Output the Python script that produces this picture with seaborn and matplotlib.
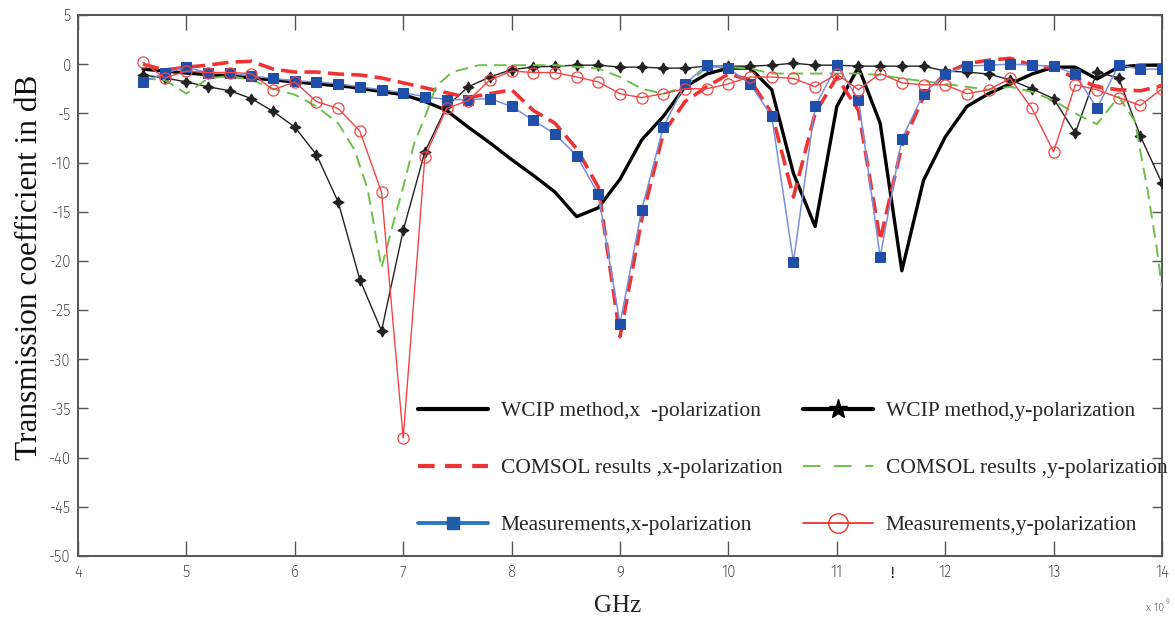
import matplotlib
matplotlib.use("Agg")
import numpy as np
import pandas as pd
import matplotlib.pyplot as plt
from matplotlib import font_manager as fm
from matplotlib.lines import Line2D
import seaborn as sns

# Frequency grid (GHz) shared by the sampled series
freq = [4.6, 4.8, 5.0, 5.2, 5.4, 5.6, 5.8, 6.0, 6.2, 6.4, 6.6, 6.8,
        7.0, 7.2, 7.4, 7.6, 7.8, 8.0, 8.2, 8.4, 8.6, 8.8, 9.0, 9.2,
        9.4, 9.6, 9.8, 10.0, 10.2, 10.4, 10.6, 10.8, 11.0, 11.2, 11.4, 11.6,
        11.8, 12.0, 12.2, 12.4, 12.6, 12.8, 13.0, 13.2, 13.4, 13.6, 13.8, 14.0]

meas_x = [-1.8, -0.9, -0.3, -0.9, -0.9, -1.2, -1.45, -1.7, -1.8, -2.0, -2.3, -2.6,
          -2.9, -3.3, -3.6, -3.6, -3.5, -4.3, -5.7, -7.1, -9.3, -13.2, -26.4, -14.8,
          -6.4, -2.0, -0.1, -0.4, -2.0, -5.3, -20.1, -4.3, -0.1, -3.6, -19.6, -7.6,
          -3.0, -1.0, -0.2, -0.1, 0.0, -0.1, -0.2, -1.0, -4.5, -0.1, -0.5, -0.5]

meas_y = [0.2, -1.4, -0.7, -0.85, -0.85, -0.95, -2.6, -1.8, -3.8, -4.5, -6.8, -13.0,
          -38.0, -9.4, -4.5, -3.7, -1.6, -0.7, -0.85, -0.85, -1.3, -1.8, -3.0, -3.4,
          -3.0, -2.5, -2.5, -2.0, -1.3, -1.3, -1.45, -2.3, -1.0, -2.6, -0.95, -1.9,
          -2.1, -2.1, -3.0, -2.6, -1.45, -4.5, -8.9, -2.1, -2.6, -3.4, -4.2, -2.5]

wcip_y = [-1.1, -1.4, -1.8, -2.3, -2.7, -3.5, -4.8, -6.4, -9.2, -14.0, -21.9, -27.1,
          -16.9, -8.9, -4.3, -2.3, -1.3, -0.55, -0.3, -0.2, -0.1, -0.1, -0.3, -0.3,
          -0.4, -0.4, -0.2, -0.2, -0.2, -0.1, 0.1, -0.1, -0.1, -0.2, -0.2, -0.2,
          -0.2, -0.7, -0.8, -1.0, -1.6, -2.5, -3.5, -7.0, -0.8, -1.4, -7.3, -12.1]

comsol_x = [0.0, -0.6, -0.3, -0.1, 0.2, 0.3, -0.5, -0.8, -0.8, -1.0, -1.1, -1.4,
            -1.9, -2.4, -2.9, -3.4, -3.0, -2.6, -4.7, -6.0, -8.6, -12.5, -27.7, -15.8,
            -7.0, -3.8, -2.3, -1.0, -1.6, -5.0, -13.5, -5.0, -1.3, -4.7, -17.9, -8.3,
            -3.3, -0.95, 0.05, 0.4, 0.6, -0.1, -0.4, -1.4, -2.3, -2.6, -2.7, -2.2]

# WCIP method, x-polarization (continuous solver output)
wcip_x_freq = [4.6, 5.0, 5.5, 6.0, 6.5, 7.0, 7.2, 7.4, 7.6, 7.8, 8.0, 8.2, 8.4, 8.6,
               8.8, 9.0, 9.2, 9.4, 9.6, 9.8, 10.0, 10.2, 10.4, 10.6, 10.8, 11.0, 11.2,
               11.4, 11.6, 11.8, 12.0, 12.2, 12.4, 12.6, 12.8, 13.0, 13.2, 13.4, 13.6,
               13.8, 14.0]
wcip_x = [-0.5, -0.9, -1.3, -1.8, -2.3, -3.1, -3.8, -4.7, -6.4, -8.0, -9.7, -11.3, -13.0,
          -15.5, -14.6, -11.7, -7.7, -5.3, -2.3, -1.0, -0.4, -0.4, -2.6, -11.1, -16.5,
          -4.3, -0.3, -6.0, -21.0, -11.8, -7.4, -4.3, -3.0, -2.0, -1.0, -0.3, -0.3,
          -1.5, -0.3, -0.1, -0.1]

# COMSOL, y-polarization
comsol_y_freq = [4.6, 4.8, 5.0, 5.2, 5.4, 5.6, 5.8, 6.0, 6.2, 6.4, 6.55, 6.67, 6.8,
                 6.9, 7.0, 7.1, 7.2, 7.3, 7.45, 7.7, 8.0, 8.4, 8.8, 9.0, 9.2, 9.4,
                 9.6, 9.8, 10.0, 10.2, 10.4, 10.8, 11.2, 11.4, 11.6, 12.0, 12.4, 12.6,
                 12.8, 13.0, 13.2, 13.4, 13.6, 13.75, 13.87, 13.95, 14.0]
comsol_y = [-1.45, -1.6, -3.0, -1.45, -1.2, -1.6, -2.5, -3.1, -4.3, -6.0, -8.7, -12.6,
            -20.7, -16.5, -12.5, -8.1, -5.4, -2.3, -0.8, -0.1, -0.1, -0.1, -0.45, -1.3,
            -2.5, -3.0, -2.3, -0.3, -0.3, -0.45, -0.95, -0.95, -0.95, -1.1, -1.45, -2.0,
            -2.6, -2.3, -2.8, -3.7, -5.0, -6.1, -3.3, -5.8, -13.0, -18.6, -22.7]

labels = ["WCIP method,x  -polarization", "WCIP method,y-polarization",
          "COMSOL results ,x-polarization", "COMSOL results ,y-polarization",
          "Measurements,x-polarization", "Measurements,y-polarization"]

x_ticks = [4, 5, 6, 7, 8, 9, 10, 11, 12, 13, 14]
y_ticks = [5, 0, -5, -10, -15, -20, -25, -30, -35, -40, -45, -50]

sns.set_style("white")
serif = ["Liberation Serif", "DejaVu Serif"]

# Pick a condensed sans face for the tick labels when one is installed
narrow_file = None
for f in fm.findSystemFonts():
    name = f.lower()
    if ("narrow" in name or "condensed" in name) and "sans" in name and "bold" not in name \
            and "oblique" not in name and "italic" not in name:
        narrow_file = f
        break
if narrow_file:
    tick_font = fm.FontProperties(fname=narrow_file, size=12)
    label_font = fm.FontProperties(fname=narrow_file, size=8.5)
    sup_font = fm.FontProperties(fname=narrow_file, size=6)
else:
    tick_font = fm.FontProperties(family="DejaVu Sans", size=10)
    label_font = fm.FontProperties(family="DejaVu Sans", size=7.5)
    sup_font = fm.FontProperties(family="DejaVu Sans", size=5.5)

W, H = 1175, 622
fig = plt.figure(figsize=(W / 100, H / 100), dpi=100)
ax = fig.add_axes([78 / W, 1 - 556 / H, (1162 - 78) / W, (556 - 15) / H])

red = "#ee3333"
blue_line = "#7b8fdc"
blue_mark = "#1f4fa8"
green = "#6cc04a"

sns.lineplot(x=wcip_x_freq, y=wcip_x, ax=ax, color="black", lw=2.4, sort=False,
             estimator=None, zorder=3)
sns.lineplot(x=freq, y=wcip_y, ax=ax, color="#222222", lw=1.0, sort=False,
             estimator=None, marker=(4, 1, 0), markersize=8, markeredgewidth=0.8,
             markerfacecolor="#222222", markeredgecolor="#222222", zorder=3)
sns.lineplot(x=freq, y=comsol_x, ax=ax, color=red, lw=2.6, sort=False,
             estimator=None, zorder=4).lines[-1].set_dashes([4.5, 2])
sns.lineplot(x=comsol_y_freq, y=comsol_y, ax=ax, color=green, lw=1.4, sort=False,
             estimator=None, zorder=4).lines[-1].set_dashes([6.5, 3.5])
sns.lineplot(x=freq, y=meas_x, ax=ax, color=blue_line, lw=1.1, sort=False,
             estimator=None, marker="s", markersize=7.5, markerfacecolor=blue_mark,
             markeredgecolor=blue_mark, zorder=5)
sns.lineplot(x=freq, y=meas_y, ax=ax, color="#f24444", lw=1.0, sort=False,
             estimator=None, marker="o", markersize=8, markerfacecolor="none",
             markeredgecolor="#f24444", markeredgewidth=0.9, zorder=6)

ax.set_xlim(4, 14)
ax.set_ylim(-50, 5)
ax.set_xticks(x_ticks)
ax.set_yticks(y_ticks)
ax.set_xticklabels([str(t) for t in x_ticks], fontproperties=tick_font, color="#3a3a3a")
ax.set_yticklabels([str(t) for t in y_ticks], fontproperties=tick_font, color="#3a3a3a")
ax.tick_params(axis="x", direction="in", length=11, width=1.0, color="#555555",
               top=True, bottom=True, pad=6)
ax.tick_params(axis="y", direction="in", length=7, width=1.0, color="#555555",
               left=True, right=True, pad=5)
for side in ["left", "right", "top", "bottom"]:
    ax.spines[side].set_color("#555555")
    ax.spines[side].set_linewidth(1.4)
ax.set_xlabel("")
ax.set_ylabel("")
ax.grid(False)

# Legend with explicit handles
handles = [
    Line2D([], [], color="black", lw=3),
    Line2D([], [], color="black", lw=3, marker="*", markersize=14),
    Line2D([], [], color=red, lw=3, dashes=[4, 2.5]),
    Line2D([], [], color=green, lw=1.4, dashes=[9, 7]),
    Line2D([], [], color="#2a78c0", lw=2.8, marker="s", markersize=8,
           markerfacecolor="#1f5fa8", markeredgecolor="#1f5fa8"),
    Line2D([], [], color="#f03030", lw=1.3, marker="o", markersize=14,
           markerfacecolor="none", markeredgecolor="#f03030"),
]
order = [0, 2, 4, 1, 3, 5]
leg = fig.legend([handles[i] for i in order], [labels[i] for i in order],
                 ncol=2, loc="upper left", bbox_to_anchor=(418 / W, 1 - 401 / H),
                 frameon=False, prop={"family": serif, "size": 15.5},
                 handlelength=3.25, handletextpad=0.6, columnspacing=0.95,
                 labelspacing=1.72, borderpad=0, borderaxespad=0)

fig.text(30 / W, 1 - 267 / H, "Transmission coefficient in dB", rotation=90,
         ha="center", va="center", family=serif, fontsize=22.5, color="#111111")
fig.text(618 / W, 1 - 606 / H, "GHz", ha="center", va="center", family=serif,
         fontsize=18, color="#222222")
fig.text(892 / W, 1 - 574 / H, "!", ha="center", va="center", family=serif,
         fontsize=12, color="#111111")
fig.text(1146 / W, 1 - 608 / H, "x 10", ha="left", va="center",
         fontproperties=label_font, color="#444444")
fig.text(1166 / W, 1 - 601 / H, "9", ha="left", va="center",
         fontproperties=sup_font, color="#444444")

fig.savefig("out.png", dpi=100)
